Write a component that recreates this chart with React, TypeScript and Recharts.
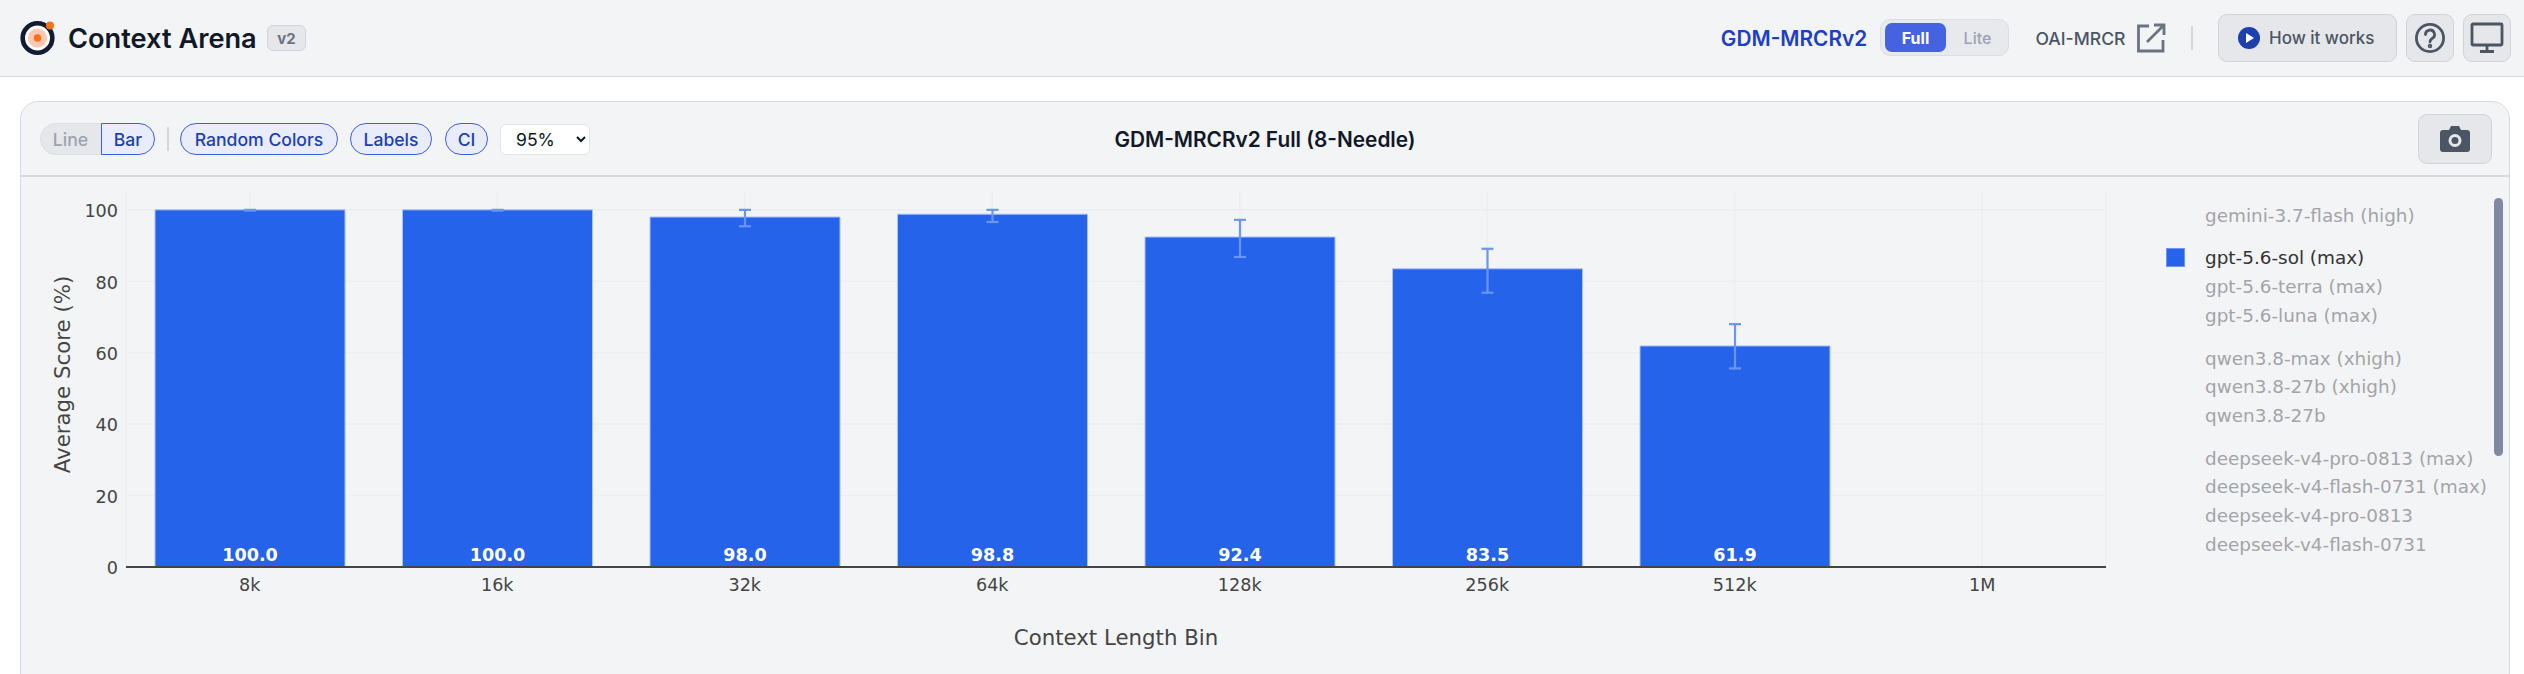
import React from "react";
import {
  Bar,
  BarChart,
  CartesianGrid,
  ErrorBar,
  Label,
  LabelList,
  XAxis,
  YAxis,
} from "recharts";

const WIDTH = 2524;
const HEIGHT = 674;

const bins = ["8k", "16k", "32k", "64k", "128k", "256k", "512k", "1M"];
const scores = [100.0, 100.0, 98.0, 98.8, 92.4, 83.5, 61.9, null];
const ciMinus = [0.2, 0.2, 2.6, 2.2, 5.6, 6.7, 6.3, null];
const ciPlus = [0, 0, 2.0, 1.2, 4.8, 5.6, 6.1, null];
const yTicks = [0, 20, 40, 60, 80, 100];

const legendGroups = [
  ["gemini-3.7-flash (high)"],
  ["gpt-5.6-sol (max)", "gpt-5.6-terra (max)", "gpt-5.6-luna (max)"],
  ["qwen3.8-max (xhigh)", "qwen3.8-27b (xhigh)", "qwen3.8-27b"],
  [
    "deepseek-v4-pro-0813 (max)",
    "deepseek-v4-flash-0731 (max)",
    "deepseek-v4-pro-0813",
    "deepseek-v4-flash-0731",
  ],
];
const activeModel = "gpt-5.6-sol (max)";

const chartData = bins.map((bin, i) => ({
  bin,
  score: scores[i],
  ci: [ciMinus[i], ciPlus[i]],
}));

const BLUE = "#2563eb";
const UI_FONT = "Inter, sans-serif";
const CHART_FONT = "'DejaVu Sans', sans-serif";
const BORDER = "#d9dbe2";
const PANEL = "#f3f4f6";

const box = (
  left: number,
  top: number,
  right: number,
  bottom: number,
): React.CSSProperties => ({
  position: "absolute",
  left,
  top,
  width: right - left,
  height: bottom - top,
  boxSizing: "border-box",
  display: "flex",
  alignItems: "center",
  justifyContent: "center",
  whiteSpace: "nowrap",
});

const Pill = ({ left, right, text }: { left: number; right: number; text: string }) => (
  <div
    style={{
      ...box(left, 123, right, 155),
      background: "#e9edfb",
      border: "1.6px solid #3f5fdc",
      borderRadius: 16,
      color: "#1e40af",
      fontSize: 17.6,
      fontWeight: 500,
    }}
  >
    {text}
  </div>
);

const GrayButton = ({
  left,
  right,
  top = 14,
  bottom = 62,
  children,
}: {
  left: number;
  right: number;
  top?: number;
  bottom?: number;
  children: React.ReactNode;
}) => (
  <div
    style={{
      ...box(left, top, right, bottom),
      background: "#e6e7ea",
      border: "1.6px solid #d1d3d9",
      borderRadius: 9,
    }}
  >
    {children}
  </div>
);

const Header = () => (
  <div style={{ ...box(0, 0, WIDTH, 77), background: PANEL, borderBottom: `1.6px solid ${BORDER}` }}>
    <svg style={{ position: "absolute", left: 18, top: 17 }} width="40" height="42" viewBox="0 0 40 42">
      <circle cx="19.5" cy="21" r="14.8" fill="#fff" stroke="#111c33" strokeWidth="4.6" />
      <circle cx="19.5" cy="21" r="9.6" fill="#fdc8b4" />
      <circle cx="19.5" cy="21" r="3.8" fill="#f97316" />
      <circle cx="32" cy="8.5" r="4" fill="#f97316" />
    </svg>
    <div style={{ ...box(68, 20, 268, 56), justifyContent: "flex-start", fontSize: 27.2, fontWeight: 600, color: "#111827" }}>
      Context Arena
    </div>
    <div
      style={{
        ...box(267, 25, 306, 51),
        background: "#e5e7eb",
        border: "1.6px solid #d1d5db",
        borderRadius: 6,
        color: "#6b7280",
        fontSize: 15,
        fontWeight: 700,
      }}
    >
      v2
    </div>
    <div style={{ ...box(1714, 20, 1874, 56), fontSize: 20.8, fontWeight: 600, color: "#1d3fc4" }}>GDM-MRCRv2</div>
    <div style={{ ...box(1880, 19, 2009, 56), background: "#e8e9ed", border: "1.6px solid #dcdee3", borderRadius: 10 }} />
    <div style={{ ...box(1885, 23, 1946, 52), background: "#4563e0", borderRadius: 7, color: "#fff", fontSize: 16, fontWeight: 700 }}>
      Full
    </div>
    <div style={{ ...box(1950, 23, 2005, 52), color: "#9ca3af", fontSize: 16, fontWeight: 500 }}>Lite</div>
    <div style={{ ...box(2028, 20, 2133, 56), color: "#4b5563", fontSize: 17.6, fontWeight: 500 }}>OAI-MRCR</div>
    <svg style={{ position: "absolute", left: 2135, top: 22 }} width="32" height="32" viewBox="0 0 32 32" fill="none" stroke="#6b7280" strokeWidth="2.8">
      <path d="M14 4H3.5V29H28V18" />
      <path d="M12 20L28 4M19 3H29V13" />
    </svg>
    <div style={{ ...box(2191, 26, 2193, 50), background: "#d5d7dd" }} />
    <GrayButton left={2218} right={2397}>
      <div style={{ position: "absolute", left: 18, top: 11 }}>
        <svg width="24" height="24" viewBox="0 0 24 24">
          <circle cx="12" cy="12" r="11" fill="#1e40af" />
          <path d="M9 7l8 5-8 5z" fill="#fff" />
        </svg>
      </div>
      <span style={{ position: "absolute", left: 50, color: "#4b5563", fontSize: 17, fontWeight: 500 }}>How it works</span>
    </GrayButton>
    <GrayButton left={2406} right={2454}>
      <svg width="32" height="32" viewBox="0 0 32 32" fill="none" stroke="#4b5563" strokeWidth="2.8">
        <circle cx="16" cy="16" r="13.6" />
        <path d="M11.5 12.5a4.5 4.5 0 1 1 6.6 4c-1.5.8-2.1 1.7-2.1 3.3" strokeLinecap="round" />
        <circle cx="16" cy="24" r="0.8" fill="#4b5563" />
      </svg>
    </GrayButton>
    <GrayButton left={2463} right={2511}>
      <svg width="34" height="32" viewBox="0 0 34 32" fill="none" stroke="#4b5563" strokeWidth="2.8">
        <rect x="2" y="2" width="30" height="21" rx="1" />
        <path d="M17 23v6M10 29.5h14" />
      </svg>
    </GrayButton>
  </div>
);

const Toolbar = () => (
  <>
    <div style={{ ...box(40, 123, 104, 155), paddingRight: 3, background: "#e5e7eb", border: "1.6px solid #dcdee3", borderRadius: "16px 0 0 16px", color: "#9ca3af", fontSize: 17.6, fontWeight: 500 }}>
      Line
    </div>
    <div style={{ ...box(101, 123, 155, 155), background: "#e9edfb", border: "1.6px solid #3f5fdc", borderRadius: "0 16px 16px 0", color: "#1e40af", fontSize: 17.6, fontWeight: 500 }}>
      Bar
    </div>
    <div style={{ ...box(167, 127, 168.6, 151), background: "#d5d7dd" }} />
    <Pill left={180} right={338} text="Random Colors" />
    <Pill left={350} right={432} text="Labels" />
    <Pill left={445} right={488} text="CI" />
    <select
      defaultValue="95%"
      style={{
        position: "absolute",
        left: 500,
        top: 124,
        width: 90,
        height: 31,
        boxSizing: "border-box",
        background: "#fff",
        border: "1.6px solid #e2e4e8",
        borderRadius: 6,
        fontFamily: UI_FONT,
        fontSize: 17.6,
        color: "#111827",
        paddingLeft: 11,
      }}
    >
      <option>90%</option>
      <option>95%</option>
      <option>99%</option>
    </select>
    <div style={{ ...box(1090, 120, 1440, 158), fontSize: 20.8, fontWeight: 600, color: "#111827" }}>
      GDM-MRCRv2 Full (8-Needle)
    </div>
    <GrayButton left={2418} right={2492} top={114} bottom={164}>
      <svg width="30" height="28" viewBox="0 0 30 28">
        <path
          fillRule="evenodd"
          fill="#4b5563"
          d="M3 5h6l2-4h8l2 4h6a3 3 0 0 1 3 3v16a3 3 0 0 1-3 3H3a3 3 0 0 1-3-3V8a3 3 0 0 1 3-3zM15 9a6.5 6.5 0 1 0 0 13a6.5 6.5 0 0 0 0-13zM15 12a3.5 3.5 0 1 1 0 7a3.5 3.5 0 0 1 0-7z"
        />
      </svg>
    </GrayButton>
  </>
);

const ModelLegend = () => (
  <div style={{ position: "absolute", left: 2205, top: 201.5, fontFamily: CHART_FONT, fontSize: 18.4, lineHeight: "28.6px", whiteSpace: "nowrap" }}>
    {legendGroups.map((group, g) => (
      <div key={g} style={{ marginBottom: 14.4 }}>
        {group.map((name) => (
          <div key={name} style={{ position: "relative", color: name === activeModel ? "#333" : "#a3a4a8" }}>
            {name === activeModel && (
              <span
                style={{
                  position: "absolute",
                  left: -39,
                  top: 3.5,
                  width: 18.6,
                  height: 18.6,
                  boxSizing: "border-box",
                  background: BLUE,
                  border: "1px solid #6f96f5",
                }}
              />
            )}
            {name}
          </div>
        ))}
      </div>
    ))}
  </div>
);

export default function App() {
  return (
    <div
      style={{
        position: "absolute",
        left: 0,
        top: 0,
        width: WIDTH,
        height: HEIGHT,
        overflow: "hidden",
        background: "#fff",
        fontFamily: UI_FONT,
      }}
    >
      <Header />
      <div
        style={{
          position: "absolute",
          left: 20,
          top: 101,
          width: 2490,
          height: 600,
          boxSizing: "border-box",
          background: PANEL,
          border: `1.6px solid ${BORDER}`,
          borderRadius: 18,
        }}
      />
      <div style={{ ...box(21, 175, 2509, 176.6), background: BORDER }} />
      <Toolbar />
      <div style={{ position: "absolute", left: 0, top: 0 }}>
        <BarChart
          width={WIDTH}
          height={HEIGHT}
          data={chartData}
          margin={{ top: 192, right: 418, bottom: 17, left: 66 }}
          style={{ fontFamily: CHART_FONT }}
        >
          <CartesianGrid stroke="#eceef0" strokeWidth={1.6} horizontalValues={yTicks} />
          <XAxis
            dataKey="bin"
            height={90}
            stroke="#444"
            strokeWidth={2}
            tickLine={false}
            tick={{ fill: "#444", fontSize: 17.6 }}
            tickMargin={6}
          >
            <Label value="Context Length Bin" position="insideBottom" offset={12} fill="#444" fontSize={21.3} />
          </XAxis>
          <YAxis
            width={60}
            domain={[0, 105]}
            ticks={yTicks}
            axisLine={false}
            tickLine={false}
            tick={{ fill: "#444", fontSize: 17.6, dy: 1 }}
            tickMargin={2}
          >
            <Label value="Average Score (%)" angle={-90} position="center" dx={-34} dy={-5} fill="#444" fontSize={21.3} />
          </YAxis>
          <Bar dataKey="score" fill={BLUE} stroke="#a9c1fb" strokeWidth={1} barSize={190} isAnimationActive={false}>
            <ErrorBar dataKey="ci" direction="y" width={6} stroke="#6b95f5" strokeWidth={2.2} isAnimationActive={false} />
            <LabelList
              dataKey="score"
              position="insideBottom"
              offset={6}
              fill="#fff"
              fontSize={17.6}
              fontWeight={700}
              formatter={(v: number | null) => (v == null ? "" : v.toFixed(1))}
            />
          </Bar>
        </BarChart>
      </div>
      <ModelLegend />
      <div style={{ position: "absolute", left: 2494, top: 198, width: 9, height: 258, background: "#8089a4", borderRadius: 5 }} />
    </div>
  );
}
